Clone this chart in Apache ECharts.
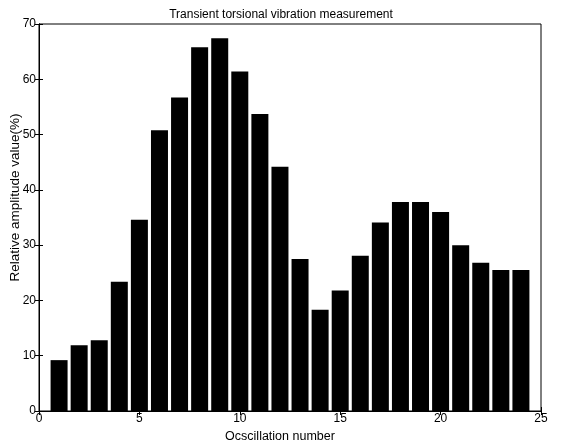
<!DOCTYPE html>
<html><head><meta charset="utf-8">
<script src="https://cdn.jsdelivr.net/npm/echarts@6/dist/echarts.min.js"></script>
<style>html,body{margin:0;padding:0;background:#fff}#c{width:562px;height:444px}</style>
</head><body><div id="c"></div>
<script>
const oscillation = [1,2,3,4,5,6,7,8,9,10,11,12,13,14,15,16,17,18,19,20,21,22,23,24];
const amplitude = [9.2,11.9,12.8,23.4,34.6,50.8,56.7,65.8,67.4,61.4,53.7,44.2,27.5,18.3,21.8,28.1,34.1,37.8,37.8,36.0,30.0,26.8,25.5,25.5];
const xTicks = [0,5,10,15,20,25];
const yTicks = [0,10,20,30,40,50,60,70];

const chart = echarts.init(document.getElementById('c'));
const font = 'Liberation Sans, Arial, sans-serif';
const lineStyle = {color:'#000', width:1};
chart.setOption({
  animation:false,
  title:{text:'Transient torsional vibration measurement', left:'center', top:4,
    textStyle:{fontFamily:font, fontSize:12, fontWeight:'normal', color:'#000'}},
  grid:{left:39, right:21, top:24, bottom:33, outerBoundsMode:'none', containLabel:false,
    show:true, borderColor:'#000', borderWidth:1},
  xAxis:[{type:'value', min:xTicks[0], max:xTicks[xTicks.length-1], interval:5,
    name:'Ocscillation number', nameLocation:'middle', nameGap:17,
    nameTextStyle:{fontFamily:font, fontSize:12.5, color:'#000', padding:[0,20,0,0]},
    axisLine:{lineStyle}, axisTick:{inside:true, length:4, lineStyle},
    axisLabel:{fontFamily:font, fontSize:12, color:'#000', margin:2}, splitLine:{show:false}},
   {type:'value', position:'top', min:0, max:25, interval:5,
    axisLine:{lineStyle}, axisTick:{inside:true, length:4, lineStyle},
    axisLabel:{show:false}, splitLine:{show:false}}],
  yAxis:[{type:'value', min:yTicks[0], max:yTicks[yTicks.length-1], interval:10,
    name:'Relative amplitude value(%)', nameLocation:'middle', nameGap:17, nameMoveOverlap:false,
    nameTextStyle:{fontFamily:font, fontSize:13.5, color:'#000', padding:[0,0,0,40]},
    axisLine:{show:true, lineStyle}, axisTick:{show:true, inside:true, length:4, lineStyle},
    axisLabel:{fontFamily:font, fontSize:12, color:'#000', margin:3}, splitLine:{show:false}},
   {type:'value', position:'right', min:0, max:70, interval:10,
    axisLine:{show:true, lineStyle}, axisTick:{show:true, inside:true, length:4, lineStyle},
    axisLabel:{show:false}, splitLine:{show:false}}],
  series:[{type:'bar', xAxisIndex:0, yAxisIndex:0, barWidth:17,
    itemStyle:{color:'#000'},
    data: oscillation.map((x,i)=>[x, amplitude[i]])}]
});
</script></body></html>
